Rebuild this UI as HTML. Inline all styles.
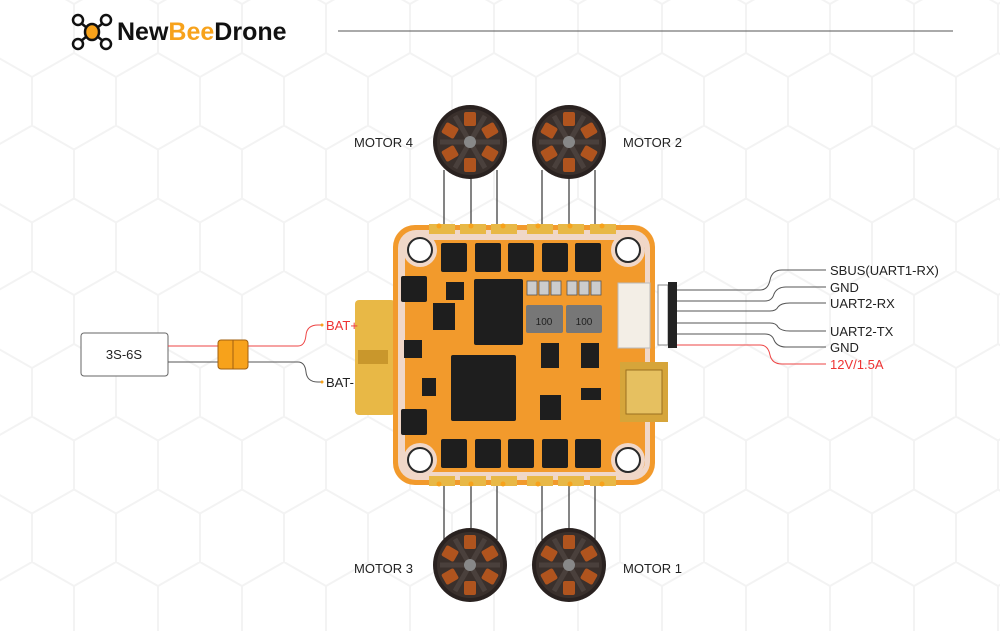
<!DOCTYPE html>
<html><head><meta charset="utf-8"><style>
body{margin:0;width:1000px;height:631px;overflow:hidden;background:#fff;font-family:"Liberation Sans",sans-serif}
</style></head><body>
<svg width="1000" height="631" viewBox="0 0 1000 631" xmlns="http://www.w3.org/2000/svg" font-family="Liberation Sans, sans-serif">
<defs>
<pattern id="hex" width="84" height="145.5" patternUnits="userSpaceOnUse" x="-10" y="-20">
<path d="M0 24 L42 0 L84 24 M42 0 L42 -24 M0 24 L0 73 L42 97 L84 73 L84 24 M42 97 L42 145.5" fill="none" stroke="#f3f3f3" stroke-width="2"/>
</pattern>
<g id="motor">
<circle r="37" fill="#2a2220"/>
<circle r="33" fill="#3a302c"/>
<g fill="#b0541e">
<rect x="-6" y="-30" width="12" height="14" rx="2"/>
<rect x="-6" y="-30" width="12" height="14" rx="2" transform="rotate(60)"/>
<rect x="-6" y="-30" width="12" height="14" rx="2" transform="rotate(120)"/>
<rect x="-6" y="-30" width="12" height="14" rx="2" transform="rotate(180)"/>
<rect x="-6" y="-30" width="12" height="14" rx="2" transform="rotate(240)"/>
<rect x="-6" y="-30" width="12" height="14" rx="2" transform="rotate(300)"/>
</g>
<g stroke="#4a403c" stroke-width="5">
<line x1="0" y1="0" x2="0" y2="-30" transform="rotate(30)"/>
<line x1="0" y1="0" x2="0" y2="-30" transform="rotate(90)"/>
<line x1="0" y1="0" x2="0" y2="-30" transform="rotate(150)"/>
<line x1="0" y1="0" x2="0" y2="-30" transform="rotate(210)"/>
<line x1="0" y1="0" x2="0" y2="-30" transform="rotate(270)"/>
<line x1="0" y1="0" x2="0" y2="-30" transform="rotate(330)"/>
</g>
<circle r="6" fill="#888"/>
</g>
</defs>
<rect width="1000" height="631" fill="url(#hex)"/>
<g transform="translate(72,14)" fill="none" stroke="#111" stroke-width="2.5">
<circle cx="6" cy="6" r="5"/><circle cx="34" cy="6" r="5"/><circle cx="6" cy="30" r="5"/><circle cx="34" cy="30" r="5"/>
<line x1="9" y1="9" x2="31" y2="27"/><line x1="31" y1="9" x2="9" y2="27"/>
<ellipse cx="20" cy="18" rx="7" ry="8" fill="#f7a21b"/>
</g>
<text x="117" y="40" font-size="25" font-weight="bold" fill="#111">New<tspan fill="#f7a21b">Bee</tspan>Drone</text>
<line x1="338" y1="31" x2="953" y2="31" stroke="#555" stroke-width="1"/>
<g stroke="#333" stroke-width="1.2">
<line x1="444" y1="170" x2="444" y2="226"/><line x1="471" y1="178" x2="471" y2="226"/><line x1="497" y1="170" x2="497" y2="226"/>
<line x1="542" y1="170" x2="542" y2="226"/><line x1="569" y1="178" x2="569" y2="226"/><line x1="595" y1="170" x2="595" y2="226"/>
<line x1="444" y1="482" x2="444" y2="540"/><line x1="471" y1="482" x2="471" y2="530"/><line x1="497" y1="482" x2="497" y2="540"/>
<line x1="542" y1="482" x2="542" y2="540"/><line x1="569" y1="482" x2="569" y2="530"/><line x1="595" y1="482" x2="595" y2="540"/>
</g>
<use href="#motor" x="470" y="142"/><use href="#motor" x="569" y="142"/>
<use href="#motor" x="470" y="565"/><use href="#motor" x="569" y="565"/>
<g font-size="13" fill="#222">
<text x="354" y="147">MOTOR 4</text><text x="623" y="147">MOTOR 2</text>
<text x="354" y="573">MOTOR 3</text><text x="623" y="573">MOTOR 1</text>
</g>
<rect x="355" y="300" width="40" height="115" rx="4" fill="#e8b846"/>
<rect x="358" y="350" width="30" height="14" fill="#c9972c"/>
<rect x="81" y="333" width="87" height="43" rx="3" fill="#fff" stroke="#666"/>
<text x="124" y="359" font-size="13" text-anchor="middle" fill="#222">3S-6S</text>
<path d="M168 346 H218 M248 346 H298 Q305 346 306 335 Q307 325 318 325 H322" fill="none" stroke="#e44" stroke-width="1"/>
<path d="M168 362 H218 M248 362 H298 Q305 362 306 372 Q307 382 318 382 H322" fill="none" stroke="#555" stroke-width="1"/>
<rect x="218" y="340" width="30" height="29" rx="3" fill="#f7a21b" stroke="#a06010"/>
<line x1="233" y1="340" x2="233" y2="369" stroke="#a06010"/>
<circle cx="322" cy="325" r="1.5" fill="#f7a21b"/><circle cx="322" cy="382" r="1.5" fill="#f7a21b"/>
<text x="326" y="330" font-size="13" fill="#e33">BAT+</text>
<text x="326" y="387" font-size="13" fill="#222">BAT-</text>
<rect x="393" y="225" width="262" height="260" rx="22" fill="#f29a2c"/>
<rect x="398" y="230" width="252" height="250" rx="18" fill="#f0d7c8"/>
<rect x="405" y="240" width="240" height="232" rx="10" fill="#f29a2c"/>
<circle cx="420" cy="250" r="17" fill="#f0d7c8"/><circle cx="628" cy="250" r="17" fill="#f0d7c8"/>
<circle cx="420" cy="460" r="17" fill="#f0d7c8"/><circle cx="628" cy="460" r="17" fill="#f0d7c8"/>
<g fill="#fff" stroke="#2a2a2a" stroke-width="2">
<circle cx="420" cy="250" r="12"/><circle cx="628" cy="250" r="12"/>
<circle cx="420" cy="460" r="12"/><circle cx="628" cy="460" r="12"/>
</g>
<g fill="#e8b846">
<rect x="429" y="224" width="26" height="10"/><rect x="460" y="224" width="26" height="10"/><rect x="491" y="224" width="26" height="10"/>
<rect x="527" y="224" width="26" height="10"/><rect x="558" y="224" width="26" height="10"/><rect x="590" y="224" width="26" height="10"/>
<rect x="429" y="476" width="26" height="10"/><rect x="460" y="476" width="26" height="10"/><rect x="491" y="476" width="26" height="10"/>
<rect x="527" y="476" width="26" height="10"/><rect x="558" y="476" width="26" height="10"/><rect x="590" y="476" width="26" height="10"/>
</g>
<g fill="#f7a21b">
<circle cx="439" cy="226" r="2.5"/><circle cx="471" cy="226" r="2.5"/><circle cx="503" cy="226" r="2.5"/><circle cx="538" cy="226" r="2.5"/><circle cx="570" cy="226" r="2.5"/><circle cx="602" cy="226" r="2.5"/>
<circle cx="439" cy="484" r="2.5"/><circle cx="471" cy="484" r="2.5"/><circle cx="503" cy="484" r="2.5"/><circle cx="538" cy="484" r="2.5"/><circle cx="570" cy="484" r="2.5"/><circle cx="602" cy="484" r="2.5"/>
</g>
<g fill="#1e1e1e">
<rect x="441" y="243" width="26" height="29" rx="2"/><rect x="475" y="243" width="26" height="29" rx="2"/><rect x="508" y="243" width="26" height="29" rx="2"/><rect x="542" y="243" width="26" height="29" rx="2"/><rect x="575" y="243" width="26" height="29" rx="2"/>
<rect x="441" y="439" width="26" height="29" rx="2"/><rect x="475" y="439" width="26" height="29" rx="2"/><rect x="508" y="439" width="26" height="29" rx="2"/><rect x="542" y="439" width="26" height="29" rx="2"/><rect x="575" y="439" width="26" height="29" rx="2"/>
<rect x="401" y="276" width="26" height="26" rx="2"/><rect x="401" y="409" width="26" height="26" rx="2"/>
<rect x="474" y="279" width="49" height="66" rx="2"/>
<rect x="451" y="355" width="65" height="66" rx="2"/>
<rect x="433" y="303" width="22" height="27"/><rect x="446" y="282" width="18" height="18"/>
<rect x="404" y="340" width="18" height="18"/><rect x="422" y="378" width="14" height="18"/>
<rect x="540" y="395" width="21" height="25"/><rect x="541" y="343" width="18" height="25"/><rect x="581" y="343" width="18" height="25"/>
<rect x="581" y="388" width="20" height="12"/>
</g>
<g fill="#777"><rect x="526" y="305" width="37" height="28" rx="2"/><rect x="566" y="305" width="36" height="28" rx="2"/></g>
<text x="544" y="325" font-size="10" fill="#222" text-anchor="middle">100</text>
<text x="584" y="325" font-size="10" fill="#222" text-anchor="middle">100</text>
<g fill="#ccc" stroke="#555" stroke-width="0.8">
<rect x="527" y="281" width="10" height="14"/><rect x="539" y="281" width="10" height="14"/><rect x="551" y="281" width="10" height="14"/>
<rect x="567" y="281" width="10" height="14"/><rect x="579" y="281" width="10" height="14"/><rect x="591" y="281" width="10" height="14"/>
</g>
<rect x="618" y="283" width="32" height="65" fill="#f3eee6" stroke="#bbb"/>
<rect x="620" y="362" width="48" height="60" fill="#d6a53a"/>
<rect x="626" y="370" width="36" height="44" fill="#e6c060" stroke="#9a7020"/>
<rect x="658" y="285" width="10" height="60" fill="#fff" stroke="#888"/>
<rect x="668" y="282" width="9" height="66" fill="#222"/>
<g fill="none" stroke="#555" stroke-width="1">
<path d="M677 290 H760 Q768 290 770 280 Q772 270 782 270 H826"/>
<path d="M677 301 H765 Q772 301 774 294 Q777 287 786 287 H826"/>
<path d="M677 311 H770 Q776 311 778 307 Q781 303 790 303 H826"/>
<path d="M677 323 H770 Q776 323 778 327 Q781 331 790 331 H826"/>
<path d="M677 334 H765 Q772 334 774 340 Q777 347 786 347 H826"/>
</g>
<path d="M677 345 H760 Q768 345 770 355 Q772 364 782 364 H826" fill="none" stroke="#e44" stroke-width="1"/>
<g font-size="13" fill="#222">
<text x="830" y="275">SBUS(UART1-RX)</text>
<text x="830" y="292">GND</text>
<text x="830" y="308">UART2-RX</text>
<text x="830" y="336">UART2-TX</text>
<text x="830" y="352">GND</text>
<text x="830" y="369" fill="#e33">12V/1.5A</text>
</g>
</svg>
</body></html>
